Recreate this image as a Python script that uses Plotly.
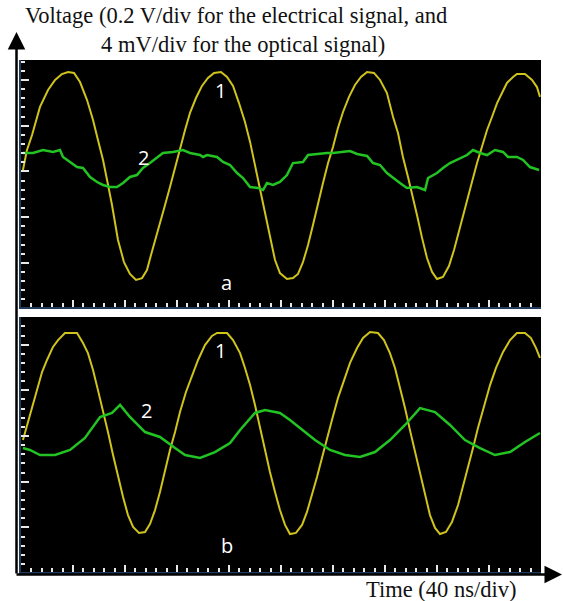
import plotly.graph_objects as go

W, H = 563, 601


def px(x):
    return x / W


def py(y):
    return 1 - y / H


# ---------------- data (time in ns, electrical signal in V, optical signal in mV) -------------
t_elec_a = [1.5, 4.6, 8.5, 14.6, 20.8, 26.2, 31.5, 36.2, 40.8, 45.4, 50.8, 55.4, 59.2, 63.1, 66.2, 70.0,
            74.6, 79.2, 83.8, 88.5, 93.1, 96.9, 100.0, 103.1, 106.9, 110.8, 114.6, 118.5, 122.3, 126.2,
            130.0, 134.6, 139.2, 143.8, 148.5, 153.8, 158.5, 163.1, 167.7, 172.3, 176.2, 180.0, 183.8,
            187.7, 191.5, 195.4, 199.2, 204.6, 209.2, 213.1, 216.9, 220.8, 224.6, 228.5, 232.3, 236.2,
            240.0, 243.8, 247.7, 252.3, 256.9, 261.5, 266.2, 271.5, 276.2, 281.5, 286.2, 290.0, 293.8,
            297.7, 300.8, 304.6, 308.5, 312.3, 316.2, 320.0, 324.6, 329.2, 333.1, 336.9, 340.8, 343.8,
            346.9, 350.8, 355.4, 358.5, 362.3, 366.2, 370.0, 373.8, 378.5, 381.5, 387.7, 393.1, 396.9,
            399.2]
v_elec_a = [0.059, 0.147, 0.212, 0.335, 0.409, 0.453, 0.479, 0.488, 0.484, 0.444, 0.365, 0.278, 0.190,
            0.103, 0.015, -0.094, -0.247, -0.344, -0.396, -0.422, -0.414, -0.379, -0.313, -0.247, -0.168,
            -0.094, -0.015, 0.072, 0.160, 0.234, 0.309, 0.374, 0.427, 0.462, 0.484, 0.488, 0.466, 0.427,
            0.352, 0.269, 0.182, 0.081, -0.020, -0.125, -0.238, -0.335, -0.392, -0.418, -0.414, -0.396,
            -0.344, -0.269, -0.182, -0.085, 0.002, 0.090, 0.160, 0.243, 0.313, 0.379, 0.431, 0.466, 0.488,
            0.484, 0.453, 0.396, 0.291, 0.221, 0.116, 0.028, -0.042, -0.138, -0.238, -0.326, -0.387,
            -0.418, -0.409, -0.361, -0.291, -0.212, -0.129, -0.059, 0.007, 0.090, 0.177, 0.234, 0.291,
            0.352, 0.396, 0.440, 0.466, 0.479, 0.479, 0.453, 0.422, 0.379]

t_opt_a = [1.5, 9.2, 16.9, 24.6, 30.0, 32.3, 37.7, 43.1, 47.7, 53.1, 58.5, 63.1, 68.5, 73.8, 78.5, 83.8,
           89.2, 93.8, 99.2, 104.6, 109.2, 116.9, 124.6, 130.0, 137.7, 140.0, 143.1, 150.8, 155.4, 160.8,
           166.2, 170.8, 176.2, 182.3, 186.2, 189.2, 193.8, 199.2, 204.6, 209.2, 216.9, 220.8, 227.7,
           235.4, 240.0, 247.7, 253.1, 258.5, 266.2, 270.8, 276.2, 281.5, 286.2, 291.5, 296.9, 304.6,
           310.8, 313.1, 320.0, 324.6, 330.0, 337.7, 343.1, 347.7, 353.1, 358.5, 364.6, 370.8, 374.6,
           381.5, 386.2, 391.5, 398.5]
mv_opt_a = [2.67, 2.67, 2.93, 2.76, 2.93, 2.32, 1.88, 1.44, 1.36, 0.57, 0.13, -0.13, -0.31, -0.31, 0.04,
            0.57, 0.74, 1.36, 1.79, 2.23, 2.67, 2.76, 2.93, 2.67, 2.49, 2.32, 2.49, 2.32, 1.88, 1.62,
            0.92, 0.48, -0.31, -0.39, -0.57, 0.04, -0.13, 0.13, 0.74, 1.79, 1.88, 2.49, 2.58, 2.67, 2.67,
            2.76, 2.84, 2.58, 2.41, 1.79, 1.62, 0.92, 0.48, 0.04, -0.39, -0.31, -0.57, 0.48, 0.92, 1.36,
            1.79, 2.23, 2.49, 2.93, 2.67, 2.49, 2.93, 2.76, 2.32, 2.32, 2.06, 1.44, 1.18]

t_elec_b = [1.5, 4.6, 8.5, 12.3, 16.2, 20.0, 24.6, 28.5, 33.8, 43.1, 45.4, 47.7, 51.5, 55.4, 59.2, 63.1,
            66.9, 70.8, 74.6, 78.5, 82.3, 86.2, 90.8, 95.4, 99.2, 103.1, 106.9, 110.8, 114.6, 118.5,
            122.3, 126.9, 131.5, 136.2, 141.5, 146.9, 150.8, 158.5, 163.1, 168.5, 172.3, 176.2, 180.0,
            183.8, 187.7, 191.5, 195.4, 199.2, 203.1, 206.9, 211.5, 216.2, 220.0, 223.8, 227.7, 231.5,
            235.4, 239.2, 243.8, 248.5, 253.1, 258.5, 263.1, 268.5, 274.6, 279.2, 283.8, 287.7, 291.5,
            295.4, 299.2, 303.1, 306.9, 310.8, 314.6, 318.5, 322.3, 326.9, 331.5, 336.2, 340.0, 343.8,
            347.7, 351.5, 356.2, 360.8, 365.4, 370.8, 376.2, 381.5, 387.7, 392.3, 396.2, 399.2]
v_elec_b = [0.020, 0.085, 0.164, 0.238, 0.317, 0.370, 0.427, 0.457, 0.488, 0.488, 0.466, 0.444, 0.400,
            0.326, 0.238, 0.151, 0.055, -0.046, -0.142, -0.230, -0.309, -0.361, -0.387, -0.383, -0.348,
            -0.287, -0.208, -0.112, -0.024, 0.055, 0.142, 0.230, 0.304, 0.370, 0.435, 0.475, 0.488, 0.488,
            0.457, 0.400, 0.335, 0.260, 0.173, 0.072, -0.024, -0.120, -0.208, -0.287, -0.352, -0.392,
            -0.387, -0.352, -0.295, -0.221, -0.142, -0.059, 0.020, 0.107, 0.203, 0.282, 0.357, 0.422,
            0.466, 0.492, 0.488, 0.457, 0.400, 0.335, 0.252, 0.160, 0.063, -0.033, -0.133, -0.221, -0.309,
            -0.365, -0.392, -0.383, -0.339, -0.265, -0.186, -0.103, -0.015, 0.072, 0.173, 0.260, 0.335,
            0.405, 0.457, 0.488, 0.488, 0.466, 0.422, 0.379]

t_opt_b = [1.5, 6.9, 14.6, 26.2, 37.7, 49.2, 60.8, 70.0, 76.2, 83.8, 95.4, 106.9, 118.5, 126.2, 137.7,
           149.2, 160.8, 168.5, 180.0, 187.7, 199.2, 206.9, 214.6, 226.2, 237.7, 249.2, 260.8, 272.3,
           283.8, 295.4, 306.9, 318.5, 330.0, 341.5, 353.1, 364.6, 376.2, 387.7, 399.2]
mv_opt_b = [-0.31, -0.48, -0.92, -0.92, -0.48, 0.57, 2.41, 2.76, 3.46, 2.41, 1.09, 0.66, -0.31, -0.92,
            -1.18, -0.66, 0.13, 1.27, 2.76, 3.02, 2.76, 2.14, 1.44, 0.39, -0.48, -0.92, -1.09, -0.66,
            0.39, 1.71, 3.19, 2.84, 1.71, 0.39, -0.31, -0.92, -0.66, 0.22, 1.01]

# ---------------- style ----------------
YELLOW = "#cfc31c"
GREEN = "#22c322"
BORDER = "#1f3a5a"
SERIF = "Liberation Serif"
SANS = "Open Sans"

fig = go.Figure()
fig.add_trace(go.Scatter(x=t_elec_a, y=v_elec_a, mode="lines", line=dict(color=YELLOW, width=2),
                         xaxis="x", yaxis="y", hoverinfo="skip"))
fig.add_trace(go.Scatter(x=t_opt_a, y=mv_opt_a, mode="lines", line=dict(color=GREEN, width=2.5),
                         xaxis="x", yaxis="y2", hoverinfo="skip"))
fig.add_trace(go.Scatter(x=t_elec_b, y=v_elec_b, mode="lines", line=dict(color=YELLOW, width=2),
                         xaxis="x2", yaxis="y3", hoverinfo="skip"))
fig.add_trace(go.Scatter(x=t_opt_b, y=mv_opt_b, mode="lines", line=dict(color=GREEN, width=2.5),
                         xaxis="x2", yaxis="y4", hoverinfo="skip"))

xdom = [px(21), px(541)]
xcommon = dict(domain=xdom, range=[0, 400], showticklabels=False, ticks="inside", tickcolor="#e8e8e8",
               ticklen=7, tickwidth=1.5, tick0=0, dtick=40,
               minor=dict(ticks="inside", ticklen=4, tickwidth=1.5, tickcolor="#e8e8e8", tick0=0, dtick=8,
                          showgrid=False),
               showline=True, linecolor=BORDER, linewidth=2, showgrid=False, zeroline=False, fixedrange=True)
ycommon = dict(showticklabels=False, ticks="inside", tickcolor="#e8e8e8", ticklen=8, tickwidth=1.5,
               dtick=0.2, showline=True, linecolor=BORDER, linewidth=2, showgrid=False, zeroline=False,
               fixedrange=True)

fig.update_layout(
    width=W, height=H, margin=dict(l=0, r=0, t=0, b=0),
    paper_bgcolor="white", plot_bgcolor="black", showlegend=False,
    xaxis=dict(anchor="y", **xcommon),
    xaxis2=dict(anchor="y3", **xcommon),
    yaxis=dict(domain=[py(307), py(60)], range=[-0.5404, 0.5404], anchor="x", tick0=0.053,
               minor=dict(ticks="inside", ticklen=4, tickwidth=1.5, tickcolor="#e8e8e8", tick0=0.053,
                          dtick=0.04, showgrid=False), **ycommon),
    yaxis2=dict(overlaying="y", anchor="x", range=[-10.81, 10.81], visible=False, fixedrange=True),
    yaxis3=dict(domain=[py(572), py(317)], range=[-0.558, 0.558], anchor="x2", tick0=0.037,
                minor=dict(ticks="inside", ticklen=4, tickwidth=1.5, tickcolor="#e8e8e8", tick0=0.037,
                           dtick=0.04, showgrid=False), **ycommon),
    yaxis4=dict(overlaying="y3", anchor="x2", range=[-11.16, 11.16], visible=False, fixedrange=True),
)

ann = []
# axis arrows
ann.append(dict(x=px(16.5), y=py(32), xref="paper", yref="paper", ax=0, ay=543,
                axref="pixel", ayref="pixel", text="", showarrow=True, arrowhead=2, arrowsize=1.4,
                arrowwidth=2.5, arrowcolor="black"))
ann.append(dict(x=px(562), y=py(574.5), xref="paper", yref="paper", ax=-547, ay=0,
                axref="pixel", ayref="pixel", text="", showarrow=True, arrowhead=2, arrowsize=1.4,
                arrowwidth=2.5, arrowcolor="black"))
# titles
txt_common = dict(xref="paper", yref="paper", showarrow=False, xanchor="center", yanchor="middle")
ann.append(dict(x=px(236), y=py(16), text="Voltage (0.2 V/div for the electrical signal, and",
                font=dict(family=SERIF, size=22.5, color="#111"), **txt_common))
ann.append(dict(x=px(243), y=py(44), text="4 mV/div for the optical signal)",
                font=dict(family=SERIF, size=22.5, color="#111"), **txt_common))
ann.append(dict(x=px(441), y=py(589), text="Time (40 ns/div)",
                font=dict(family=SERIF, size=22.5, color="#111"), **txt_common))
# labels in panels
for (lx, ly, txt) in [(220, 91, "1"), (143, 157, "2"), (226, 282, "a"),
                      (220, 350, "1"), (146, 411, "2"), (227, 545, "b")]:
    ann.append(dict(x=px(lx), y=py(ly), text=txt, font=dict(family=SANS, size=20, color="white"),
                    **txt_common))
fig.update_layout(annotations=ann)

fig.write_html("out.html", config={"displayModeBar": False},
               post_script="document.body.style.margin='0';")
